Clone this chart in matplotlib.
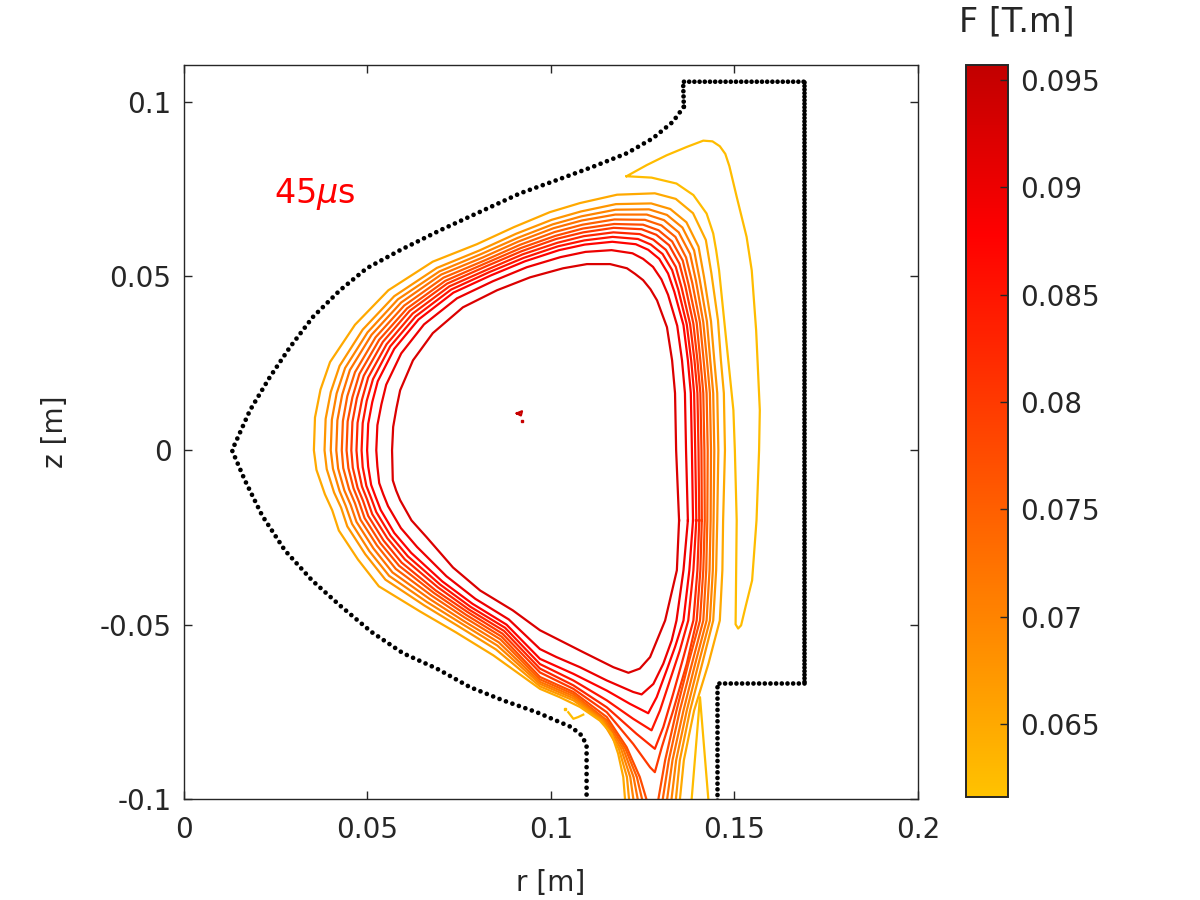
import matplotlib
matplotlib.use("Agg")
import matplotlib.pyplot as plt
import numpy as np
from matplotlib.colors import LinearSegmentedColormap, Normalize
from matplotlib.cm import ScalarMappable

plt.rcParams["font.family"] = ["DejaVu Sans"]
plt.rcParams["mathtext.fontset"] = "dejavusans"

# ── Data (r, z in mm) ─────────────────────────────────────────────────────

# first wall, curved part from the top flange down to the lower flange
wall_curve_r = [136.2, 133.2, 127.8, 120.7, 111.4, 101.6, 91.6, 80.7, 69.8, 58.9,
                49.8, 42.5, 35.1, 28.9, 23.4, 18.0, 13.1, 16.6, 21.3, 27.5, 34.9,
                42.5, 51.1, 59.7, 68.9, 77.9, 86.9, 96.1, 102.5, 105.6, 108.4,
                109.7, 109.7]
wall_curve_z = [98.5, 94.2, 89.5, 85.2, 81.3, 77.5, 73.7, 68.4, 63.1, 57.4,
                52.2, 45.9, 38.2, 29.6, 21.0, 11.5, 0.0, -8.6, -18.7, -28.7, -37.3,
                -44.5, -52.1, -58.2, -62.6, -67.9, -71.7, -75.1, -78.0, -79.4, -81.8,
                -84.6, -105.0]
# rectangular outer part of the wall
wall_top_r = [136.2, 136.0, 168.9]
wall_top_z = [98.5, 105.7, 105.7]
wall_right_r = [168.9, 168.9]
wall_right_z = [105.7, -66.8]
wall_step_r = [168.9, 145.1, 145.1]
wall_step_z = [-66.8, -66.8, -105.0]

# closed flux surfaces, F = 0.0925 ... 0.08
r_0925 = [134.9, 134.1, 133.8, 133.0, 131.6, 128.9, 127.1, 125.1, 122.9, 120.7, 116.1, 109.8,
          103.3, 94.3, 85.3, 76.0, 67.8, 62.4, 58.9, 57.9, 57.0, 56.7, 56.8, 56.9, 57.8, 58.9,
          62.0, 66.1, 73.3, 80.7, 89.6, 97.0, 101.5, 108.8, 117.0, 121.1, 124.2, 127.0, 131.1,
          134.3, 134.9]
z_0925 = [-20.1, 0.0, 16.4, 25.8, 35.3, 43.0, 46.2, 48.8, 50.6, 52.2, 53.4, 53.4,
          52.2, 49.6, 45.9, 41.0, 33.6, 25.8, 17.2, 12.1, 6.7, 0.0, -4.3, -8.6, -11.5, -14.3,
          -20.1, -24.9, -33.6, -40.2, -45.9, -51.6, -54.0, -57.9, -62.2, -63.8, -62.6, -59.3, -48.8,
          -34.4, -20.1]

r_0900 = [137.3, 136.8, 136.5, 135.7, 134.4, 131.9, 130.1, 127.8, 125.1, 122.2, 116.5, 109.4,
          102.6, 93.4, 84.2, 74.4, 65.4, 59.2, 55.1, 53.8, 52.7, 52.4, 52.7, 53.2, 54.3, 55.6,
          59.1, 63.5, 71.5, 79.4, 88.5, 97.0, 101.5, 107.9, 115.2, 122.4, 124.7, 127.9, 130.6,
          132.9, 134.2, 136.1, 137.3]
z_0900 = [-20.1, 0.0, 16.4, 25.8, 35.7, 44.6, 49.0, 52.6, 54.9, 56.5, 57.4, 56.9,
          55.4, 52.5, 48.5, 43.6, 36.1, 27.8, 18.8, 13.2, 7.2, 0.0, -4.6, -9.4, -12.6, -16.0,
          -22.3, -27.7, -36.1, -42.6, -48.5, -57.0, -59.3, -62.2, -66.0, -69.3, -70.0, -67.0, -61.2,
          -54.5, -48.8, -34.4, -20.1]

r_0875 = [138.7, 138.4, 138.1, 137.3, 136.1, 133.6, 131.9, 129.5, 126.5, 123.1, 116.7, 109.2,
          102.2, 92.9, 83.5, 73.4, 63.9, 57.3, 52.8, 51.3, 50.2, 49.9, 50.2, 51.0, 52.2, 53.6,
          57.3, 61.9, 70.4, 78.6, 87.9, 97.0, 106.1, 115.2, 121.5, 126.5, 128.8, 131.5, 133.8,
          136.1, 137.7, 138.7]
z_0875 = [-20.1, 0.0, 16.4, 25.8, 35.9, 45.5, 50.7, 54.9, 57.5, 59.1, 59.8, 59.0,
          57.4, 54.2, 50.1, 45.2, 37.5, 29.1, 19.8, 13.8, 7.6, 0.0, -4.7, -9.9, -13.3, -17.1,
          -23.7, -29.4, -37.6, -44.0, -50.0, -59.8, -64.1, -68.9, -72.7, -75.4, -70.8, -63.1, -56.4,
          -48.8, -34.4, -20.1]

r_0850 = [139.6, 139.3, 139.0, 138.2, 137.0, 134.7, 133.0, 130.4, 127.2, 123.7, 116.8, 109.1,
          101.9, 92.6, 83.2, 72.8, 63.1, 56.2, 51.5, 49.8, 48.7, 48.4, 48.7, 49.7, 51.0, 52.4,
          56.3, 61.0, 69.8, 78.1, 87.5, 97.0, 106.1, 115.2, 122.4, 127.4, 129.7, 132.4, 135.1,
          137.4, 138.8, 139.6]
z_0850 = [-20.1, 0.0, 16.4, 25.8, 36.1, 46.0, 51.7, 56.3, 59.0, 60.6, 61.2, 60.2,
          58.5, 55.2, 51.1, 46.1, 38.4, 29.8, 20.4, 14.2, 7.8, 0.0, -4.8, -10.2, -13.7, -17.7,
          -24.5, -30.4, -38.5, -44.9, -50.9, -61.3, -66.0, -71.7, -77.0, -80.3, -74.6, -66.0, -57.4,
          -48.8, -34.4, -20.1]

r_0825 = [140.4, 140.2, 139.9, 139.1, 137.9, 135.6, 134.0, 131.3, 127.9, 124.2, 117.0, 108.9,
          101.7, 92.3, 82.8, 72.3, 62.3, 55.2, 50.2, 48.5, 47.3, 47.0, 47.4, 48.5, 49.9, 51.3,
          55.4, 60.2, 69.2, 77.7, 87.2, 97.0, 106.1, 115.2, 123.3, 128.3, 130.6, 133.3, 136.1,
          138.8, 139.9, 140.4]
z_0825 = [-20.1, 0.0, 16.4, 25.8, 36.2, 46.6, 52.6, 57.5, 60.4, 62.0, 62.5, 61.4,
          59.5, 56.2, 51.9, 47.0, 39.2, 30.4, 20.9, 14.5, 7.9, 0.0, -4.9, -10.4, -14.1, -18.3,
          -25.2, -31.3, -39.3, -45.7, -51.8, -62.6, -67.4, -73.7, -81.3, -85.6, -79.4, -69.8, -59.3,
          -48.8, -34.4, -20.1]

r_0800 = [141.1, 141.0, 140.7, 139.9, 138.8, 136.6, 135.0, 132.2, 128.7, 124.7, 117.1, 108.8,
          101.4, 92.0, 82.4, 71.7, 61.5, 54.2, 49.0, 47.1, 45.9, 45.6, 46.0, 47.3, 48.8, 50.2,
          54.4, 59.3, 68.6, 77.3, 86.8, 97.0, 106.1, 115.2, 122.4, 127.0, 128.3, 130.2, 133.3,
          137.0, 139.7, 140.7, 141.1]
z_0800 = [-20.1, 0.0, 16.4, 25.8, 36.3, 47.1, 53.5, 58.8, 61.8, 63.4, 63.8, 62.5,
          60.6, 57.1, 52.8, 47.8, 40.0, 31.1, 21.4, 14.9, 8.1, 0.0, -5.0, -10.7, -14.5, -18.8,
          -25.9, -32.2, -40.2, -46.4, -52.6, -63.7, -68.4, -75.1, -84.2, -90.9, -92.3, -85.1, -74.6,
          -61.2, -48.8, -34.4, -20.1]

# open surfaces, F = 0.0775 ... 0.065 (both legs leave through the bottom)
r_0775 = [129.0, 129.2, 131.1, 134.2, 137.4, 140.6, 141.5,
          141.9, 141.8, 141.5, 140.7, 139.7, 137.5, 135.9, 133.0, 129.3, 125.1, 117.2, 108.7,
          101.2, 91.8, 82.1, 71.2, 60.8, 53.2, 47.8, 45.9, 44.6, 44.3, 44.8, 46.2, 47.7, 49.2,
          53.5, 58.6, 68.1, 76.9, 86.5,
          97.0, 106.1, 115.2, 120.6, 124.2, 126.1, 126.6]
z_0775 = [-104.3, -100.4, -88.9, -74.6, -61.2, -48.8, -34.4,
          -20.1, 0.0, 16.4, 25.8, 36.5, 47.5, 54.4, 59.9, 63.1, 64.7, 64.9, 63.6,
          61.5, 58.0, 53.6, 48.6, 40.7, 31.7, 21.9, 15.2, 8.3, 0.0, -5.1, -10.9, -14.8, -19.4,
          -26.6, -33.1, -40.9, -47.2, -53.4,
          -65.0, -69.3, -76.5, -85.1, -93.7, -100.4, -104.3]

r_0750 = [130.2, 130.4, 132.1, 135.1, 138.4, 141.5, 142.3,
          142.6, 142.7, 142.4, 141.6, 140.6, 138.5, 136.8, 133.9, 130.1, 125.6, 117.3, 108.6,
          101.0, 91.5, 81.8, 70.7, 60.0, 52.2, 46.6, 44.5, 43.3, 43.0, 43.4, 45.0, 46.6, 48.1,
          52.6, 57.7, 67.5, 76.4, 86.2,
          97.0, 106.1, 115.3, 120.3, 123.4, 124.9, 125.4]
z_0750 = [-104.3, -100.4, -88.9, -74.6, -61.2, -48.8, -34.4,
          -20.1, 0.0, 16.4, 25.8, 36.6, 48.0, 55.3, 61.2, 64.5, 66.1, 66.2, 64.7,
          62.6, 58.9, 54.4, 49.5, 41.5, 32.4, 22.4, 15.5, 8.4, 0.0, -5.1, -11.2, -15.2, -19.9,
          -27.3, -34.0, -41.7, -47.9, -54.2,
          -65.7, -69.9, -77.5, -85.6, -93.7, -100.4, -104.3]

r_0725 = [131.4, 131.6, 133.1, 136.1, 139.3, 142.4, 143.2,
          143.5, 143.6, 143.3, 142.5, 141.5, 139.5, 137.9, 134.8, 130.8, 126.1, 117.5, 108.4,
          100.7, 91.2, 81.4, 70.1, 59.2, 51.1, 45.2, 43.1, 41.8, 41.5, 42.0, 43.7, 45.4, 47.0,
          51.6, 56.8, 66.9, 76.0, 85.8,
          97.0, 106.1, 114.8, 119.7, 122.5, 123.7, 124.1]
z_0725 = [-104.3, -100.4, -88.9, -74.6, -61.2, -48.8, -34.4,
          -20.1, 0.0, 16.4, 25.8, 36.7, 48.6, 56.3, 62.5, 66.0, 67.6, 67.6, 65.9,
          63.7, 59.9, 55.3, 50.4, 42.4, 33.1, 23.0, 15.9, 8.6, 0.0, -5.2, -11.5, -15.6, -20.5,
          -28.1, -35.0, -42.6, -48.8, -55.1,
          -66.4, -70.5, -77.5, -85.6, -93.7, -100.4, -104.3]

r_0700 = [132.6, 132.8, 134.1, 137.0, 140.2, 143.3, 144.1,
          144.3, 144.5, 144.2, 143.4, 142.5, 140.5, 139.0, 135.8, 131.6, 126.7, 117.6, 108.3,
          100.5, 90.9, 81.0, 69.6, 58.3, 50.0, 43.9, 41.6, 40.3, 40.0, 40.6, 42.4, 44.1, 45.8,
          50.5, 55.9, 66.2, 75.5, 85.4,
          97.0, 106.1, 114.3, 119.1, 121.6, 122.5, 122.8]
z_0700 = [-104.3, -100.4, -88.9, -74.6, -61.2, -48.8, -34.4,
          -20.1, 0.0, 16.4, 25.8, 36.9, 49.1, 57.3, 63.9, 67.5, 69.1, 69.0, 67.1,
          64.8, 60.9, 56.3, 51.3, 43.3, 33.8, 23.6, 16.3, 8.8, 0.0, -5.3, -11.7, -16.0, -21.1,
          -28.9, -36.0, -43.5, -49.6, -56.0,
          -67.0, -71.1, -77.5, -85.6, -93.7, -100.4, -104.3]

r_0675 = [133.8, 134.0, 135.1, 137.9, 141.2, 144.2, 145.0,
          145.3, 145.6, 145.3, 144.5, 143.6, 141.7, 140.2, 136.9, 132.5, 127.3, 117.7, 108.2,
          100.2, 90.5, 80.5, 68.9, 57.3, 48.7, 42.4, 40.0, 38.6, 38.3, 38.9, 40.9, 42.8, 44.5,
          49.4, 54.9, 65.5, 75.0, 85.0,
          97.0, 106.1, 113.9, 118.5, 120.7, 121.3, 121.6]
z_0675 = [-104.3, -100.4, -88.9, -74.6, -61.2, -48.8, -34.4,
          -20.1, 0.0, 16.4, 25.8, 37.0, 49.7, 58.4, 65.4, 69.2, 70.8, 70.6, 68.5,
          66.1, 62.1, 57.3, 52.3, 44.2, 34.6, 24.2, 16.7, 9.0, 0.0, -5.4, -12.1, -16.4, -21.8,
          -29.8, -37.1, -44.5, -50.6, -57.1,
          -67.7, -71.7, -77.5, -85.6, -93.7, -100.4, -104.3]

r_0650 = [135.0, 135.1, 136.2, 139.0, 142.9, 146.0, 146.7,
          146.9, 147.4, 147.1, 146.3, 145.5, 143.7, 142.2, 138.7, 134.0, 128.3, 118.0, 107.9,
          99.7, 89.9, 79.8, 67.8, 55.7, 46.6, 39.8, 37.2, 35.7, 35.4, 36.1, 38.4, 40.4, 42.2,
          47.4, 53.1, 64.3, 74.1, 84.3,
          97.0, 102.4, 107.9, 113.3, 116.5, 118.3, 119.7, 120.2, 120.4]
z_0650 = [-104.3, -100.4, -88.9, -74.6, -61.2, -48.8, -34.4,
          -20.1, 0.0, 16.4, 25.8, 37.3, 50.8, 60.3, 68.0, 72.1, 73.7, 73.3, 70.9,
          68.3, 64.0, 59.1, 54.1, 45.9, 36.0, 25.3, 17.4, 9.4, 0.0, -5.6, -12.6, -17.2, -23.0,
          -31.3, -39.0, -46.2, -52.2, -58.8,
          -68.4, -70.8, -73.6, -77.5, -81.3, -87.0, -93.7, -100.4, -104.3]

# F = 0.0625: thin tongue on the low-field side, a wedge at the bottom, a small hook
tongue_r = [120.6, 126.1, 131.5, 137.0, 141.5, 144.0, 146.0, 147.5, 148.6, 150.6, 153.3,
            154.7, 155.9, 156.9, 156.7, 156.0, 154.8, 153.1, 151.8, 151.0, 150.3, 150.6,
            150.1, 149.7, 145.8, 145.0, 144.2, 142.4, 138.8, 134.2, 127.4, 120.6]
tongue_z = [78.6, 81.8, 84.6, 87.0, 88.8, 88.6, 87.2, 85.0, 81.5, 72.7, 61.2,
            51.6, 34.4, 11.5, 0.0, -20.1, -37.3, -44.5, -50.2, -51.1, -49.9, -20.1,
            0.0, 11.5, 51.6, 57.4, 62.2, 67.9, 73.2, 76.5, 78.2, 78.6]
wedge_r = [138.0, 138.3, 140.6, 142.9, 143.2]
wedge_z = [-104.3, -100.4, -70.8, -100.4, -104.3]
hook_r = [104.7, 106.1, 107.4, 108.8]
hook_z = [-75.1, -77.0, -76.5, -75.8]
speck_r = [103.8]
speck_z = [-74.1]

# magnetic axis blob (F = 0.095)
axis_r = [90.7, 92.1, 91.8, 90.7]
axis_z = [10.6, 11.2, 10.0, 10.6]
axis_dot_r = [92.1]
axis_dot_z = [8.3]

surfaces = [
    (0.0925, r_0925, z_0925), (0.0900, r_0900, z_0900), (0.0875, r_0875, z_0875),
    (0.0850, r_0850, z_0850), (0.0825, r_0825, z_0825), (0.0800, r_0800, z_0800),
    (0.0775, r_0775, z_0775), (0.0750, r_0750, z_0750), (0.0725, r_0725, z_0725),
    (0.0700, r_0700, z_0700), (0.0675, r_0675, z_0675), (0.0650, r_0650, z_0650),
    (0.0625, tongue_r, tongue_z), (0.0625, wedge_r, wedge_z), (0.0625, hook_r, hook_z),
    (0.0950, axis_r, axis_z),
]
specks = [(0.0950, axis_dot_r, axis_dot_z), (0.0625, speck_r, speck_z)]

F_min, F_max = 0.0616, 0.0957
cbar_ticks = [0.065, 0.07, 0.075, 0.08, 0.085, 0.09, 0.095]
cbar_labels = ["0.065", "0.07", "0.075", "0.08", "0.085", "0.09", "0.095"]
x_ticks = [0, 0.05, 0.1, 0.15, 0.2]
x_labels = ["0", "0.05", "0.1", "0.15", "0.2"]
y_ticks = [-0.1, -0.05, 0, 0.05, 0.1]
y_labels = ["-0.1", "-0.05", "0", "0.05", "0.1"]

# ── Plot ──────────────────────────────────────────────────────────────────

INK = (0.15, 0.15, 0.15)
cmap = LinearSegmentedColormap.from_list(
    "fcmap", [(0.0, (1.0, 0.76, 0.0)), (0.768, (1.0, 0.0, 0.0)), (1.0, (0.76, 0.0, 0.0))])
norm = Normalize(F_min, F_max)


def mm(v):
    return np.asarray(v) / 1000.0


def dotted(ax, r, z, spacing):
    ax.plot(mm(r), mm(z), color="black", lw=3.4, linestyle=(0, (0.001, spacing)),
            dash_capstyle="round", zorder=3)


fig = plt.figure(figsize=(12, 9), dpi=100)
ax = fig.add_axes([0.1533, 0.1122, 0.6117, 0.8156])

for lev, r, z in surfaces:
    ax.plot(mm(r), mm(z), color=cmap(norm(lev)), lw=1.6, zorder=2,
            solid_joinstyle="round")
for lev, r, z in specks:
    ax.plot(mm(r), mm(z), "s", ms=2, color=cmap(norm(lev)), zorder=2)

dotted(ax, wall_curve_r, wall_curve_z, 1.45)
dotted(ax, wall_top_r, wall_top_z, 1.1)
dotted(ax, wall_right_r, wall_right_z, 0.75)
dotted(ax, wall_step_r, wall_step_z, 1.2)

ax.text(0.0245, 0.0709, r"45$\mu$s", color="red", fontsize=24, va="baseline")

ax.set_xlim(0, 0.2)
ax.set_ylim(-0.1, 0.1105)
ax.set_xticks(x_ticks, x_labels)
ax.set_yticks(y_ticks, y_labels)
ax.tick_params(direction="in", length=6, width=1.0, top=True, right=True,
               labelsize=20, colors=INK)
ax.tick_params(axis="x", pad=12)
ax.tick_params(axis="y", pad=9)
for s in ax.spines.values():
    s.set_color(INK)
    s.set_linewidth(1.0)
ax.set_xlabel("r [m]", fontsize=20, color=INK, labelpad=18)
ax.set_ylabel("z [m]", fontsize=20, color=INK, labelpad=22)

cax = fig.add_axes([0.805, 0.1144, 0.035, 0.8133])
cb = fig.colorbar(ScalarMappable(norm=norm, cmap=cmap), cax=cax, ticks=cbar_ticks)
cb.set_ticklabels(cbar_labels)
cb.outline.set_edgecolor(INK)
cb.outline.set_linewidth(1.4)
cax.tick_params(direction="in", length=6, width=1.0, labelsize=20, colors=INK, pad=9)
fig.text(1017 / 1200, 1 - 22 / 900, "F [T.m]", fontsize=24, color=INK,
         ha="center", va="center")

fig.savefig("out.png", dpi=100)
